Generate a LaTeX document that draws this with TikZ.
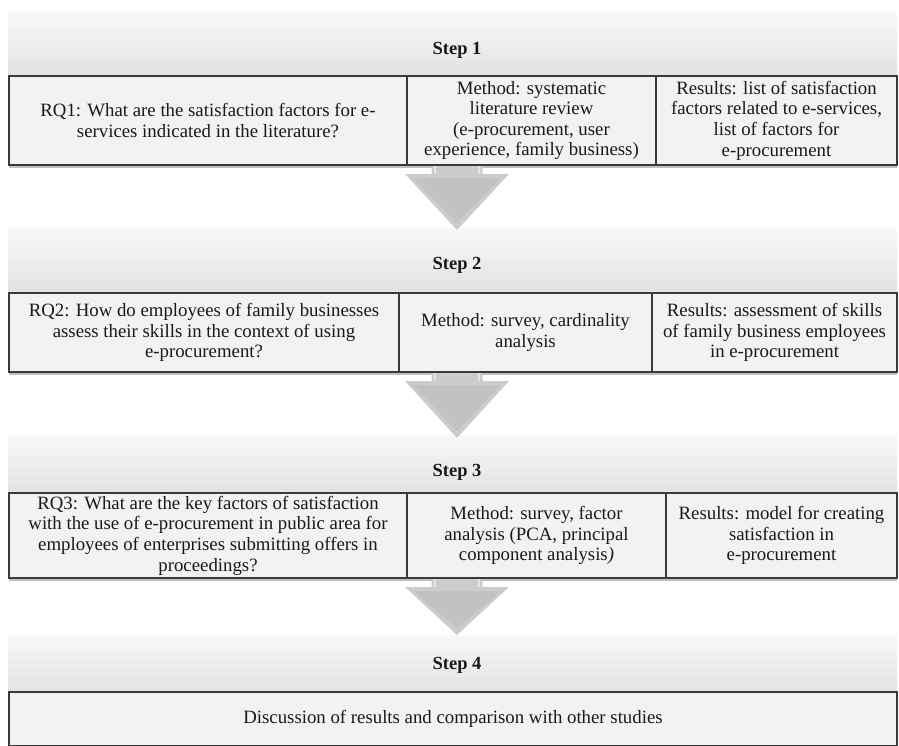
\documentclass[tikz,border=0pt]{standalone}
\usepackage{fontspec}
\setmainfont{Liberation Serif}
\usetikzlibrary{shadows,calc}
\definecolor{cellfill}{RGB}{242,242,242}
\definecolor{cellline}{RGB}{58,58,58}
\definecolor{headtop}{RGB}{248,248,248}
\definecolor{headbot}{RGB}{226,226,226}
\definecolor{arrowgray}{RGB}{204,204,204}
\definecolor{arrowdark}{RGB}{194,194,194}
\definecolor{arrowhl}{RGB}{228,228,228}
\definecolor{txt}{RGB}{25,25,25}
\newcommand{\bodyfont}{\fontsize{18.8}{20.6}\selectfont}
\newcommand{\stepfont}{\fontsize{18.5}{20}\selectfont\bfseries}
\newcommand{\blockarrow}[2]{%
  \fill[arrowgray] ($(#1)+(-25.5,0)$) -- ($(#1)+(25.5,0)$) -- ($(#1)+(25.5,8)$) -- ($(#1)+(52,8)$) -- (#2) -- ($(#1)+(-52,8)$) -- ($(#1)+(-25.5,8)$) -- cycle;
  \fill[arrowdark] ($(#1)+(-44,12)$) -- ($(#1)+(44,12)$) -- ($(#2)+(0,-7)$) -- cycle;
  \draw[arrowhl, line width=1.2pt] ($(#1)+(-22,0)$) -- ($(#1)+(-22,8)$);
  \draw[arrowhl, line width=1.2pt] ($(#1)+(22,0)$) -- ($(#1)+(22,8)$);
}
\begin{document}
\begin{tikzpicture}[x=1pt,y=-1pt,
  every node/.style={inner sep=0pt, outer sep=0pt},
  header/.style={top color=headtop, bottom color=headbot, draw=none},
  steplabel/.style={font=\stepfont, text=txt},
  cell/.style={draw=cellline, line width=1.2pt, fill=cellfill, align=center, font=\bodyfont, text=txt,
    drop shadow={shadow xshift=0pt, shadow yshift=-3pt, opacity=0.25, fill=black}}]
\useasboundingbox (0,0) rectangle (899,745);
\fill[white] (0,0) rectangle (899,745);

% headers
\node[header, minimum width=889pt, minimum height=64pt] (h1) at (452.5,44) {};
\node[header, minimum width=889pt, minimum height=65pt] (h2) at (452.5,260.5) {};
\node[header, minimum width=889pt, minimum height=58pt] (h3) at (452.5,464) {};
\node[header, minimum width=889pt, minimum height=57pt] (h4) at (452.5,663.5) {};
\node[steplabel] (s1) at (457,50) {Step 1};
\node[steplabel] (s2) at (457,265) {Step 2};
\node[steplabel] (s3) at (457,472) {Step 3};
\node[steplabel] (s4) at (457,665) {Step 4};

% row 1
\node[cell, minimum width=398pt, minimum height=89pt] (q1) at (208,120.5)
  {RQ1: What are the satisfaction factors for e-\\services indicated in the literature?};
\node[cell, minimum width=249pt, minimum height=89pt] (m1) at (531.5,120.5)
  {Method: systematic\\literature review\\(e-procurement, user\\experience, family business)};
\node[cell, minimum width=241pt, minimum height=89pt] (r1) at (776.5,120.5)
  {Results: list of satisfaction\\factors related to e-services,\\list of factors for\\e-procurement};

% row 2
\node[cell, minimum width=390pt, minimum height=79pt] (q2) at (204,332.5)
  {RQ2: How do employees of family businesses\\assess their skills in the context of using\\e-procurement?};
\node[cell, minimum width=253pt, minimum height=79pt] (m2) at (525.5,332.5)
  {Method: survey, cardinality\\analysis};
\node[cell, minimum width=245pt, minimum height=79pt] (r2) at (774.5,332.5)
  {Results: assessment of skills\\of family business employees\\in e-procurement};

% row 3
\node[cell, minimum width=398pt, minimum height=85pt] (q3) at (208,535.5)
  {RQ3: What are the key factors of satisfaction\\with the use of e-procurement in public area for\\employees of enterprises submitting offers in\\proceedings?};
\node[cell, minimum width=259pt, minimum height=85pt] (m3) at (536.5,535.5)
  {Method: survey, factor\\analysis (PCA, principal\\component analysis\textit{)}};
\node[cell, minimum width=231pt, minimum height=85pt] (r3) at (781.5,535.5)
  {Results: model for creating\\satisfaction in\\e-procurement};

% row 4
\node[cell, minimum width=888pt, minimum height=54pt] (d4) at (453,719)
  {Discussion of results and comparison with other studies};

% arrows
\coordinate (a1s) at ($(s1 |- q1.south)+(0,1)$);
\coordinate (a1e) at ($(s1 |- h2.north)+(0,2)$);
\coordinate (a2s) at ($(s2 |- q2.south)+(0,1)$);
\coordinate (a2e) at ($(s2 |- h3.north)+(0,3)$);
\coordinate (a3s) at ($(s3 |- q3.south)+(0,1)$);
\coordinate (a3e) at ($(s3 |- h4.north)+(0,0)$);
\blockarrow{a1s}{a1e}
\blockarrow{a2s}{a2e}
\blockarrow{a3s}{a3e}
\end{tikzpicture}
\end{document}
